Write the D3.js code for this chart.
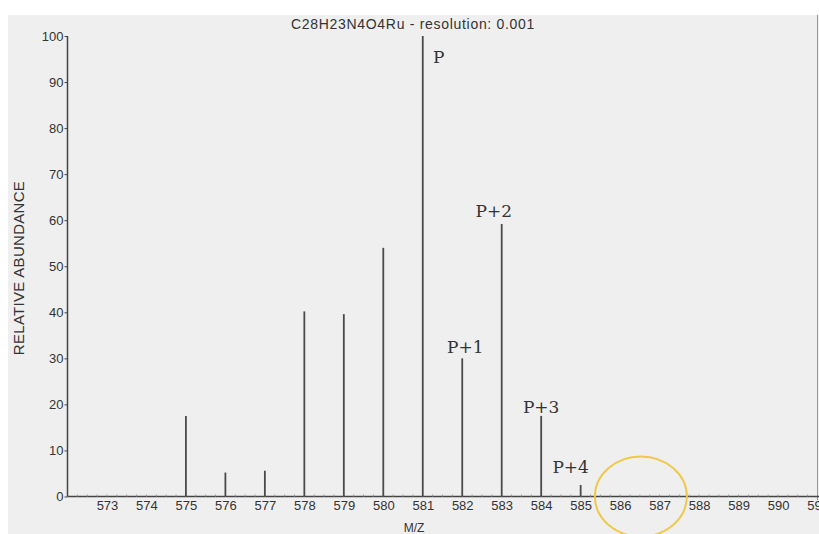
<!DOCTYPE html>
<html>
<head>
<meta charset="utf-8">
<script src="https://cdn.jsdelivr.net/npm/d3@7"></script>
<style>
  body { margin: 0; background: #fff; }
  svg { display: block; }
</style>
</head>
<body>
<div id="chart"></div>
<script>
// peak data (m/z, relative abundance)
var mz        = [575, 576, 577, 578, 579, 580, 581, 582, 583, 584, 585];
var abundance = [17.5, 5.2, 5.6, 40.2, 39.6, 54, 100, 30, 59.2, 17.5, 2.5];

// isotope labels
var labelText = ["P", "P+1", "P+2", "P+3", "P+4"];
var labelMz   = [581, 582, 583, 584, 585];

var xTicks = d3.range(573, 592);
var yTicks = d3.range(0, 101, 10);

var W = 819, H = 534;
var sans = "Arial, 'Liberation Sans', sans-serif";

var svg = d3.select("#chart").append("svg")
    .attr("width", W)
    .attr("height", H);

// grey panel
svg.append("rect")
    .attr("x", 8).attr("y", 15)
    .attr("width", W - 8).attr("height", H - 15)
    .style("fill", "#efefef");
svg.append("line")
    .attr("x1", 817.5).attr("x2", 817.5)
    .attr("y1", 15).attr("y2", 500)
    .style("stroke", "#999").style("stroke-width", 1);

var x = d3.scaleLinear().domain([572, 591]).range([67.5, 817.5]);
var y = d3.scaleLinear().domain([0, 100]).range([496.5, 36]);

// title
svg.append("text")
    .attr("x", 413).attr("y", 29)
    .attr("text-anchor", "middle")
    .style("font-family", sans)
    .style("font-size", "14px")
    .style("letter-spacing", "0.7px")
    .style("fill", "#333")
    .text("C28H23N4O4Ru - resolution: 0.001");

// y axis
var yAxis = d3.axisLeft(y).tickValues(yTicks).tickSize(3).tickPadding(1);
var gy = svg.append("g")
    .attr("transform", "translate(" + x(572) + ",0)")
    .call(yAxis);
gy.select(".domain").attr("d", "M0," + y(100) + "V" + y(0));

// x axis
var xAxis = d3.axisBottom(x).tickValues(xTicks).tickSize(0).tickPadding(4);
var gx = svg.append("g")
    .attr("transform", "translate(0," + y(0) + ")")
    .call(xAxis);
gx.select(".domain").attr("d", "M" + x(572) + ",0H" + W);

// minor ticks on the m/z axis
svg.append("g").selectAll("line")
    .data(d3.range(572.25, 591, 0.25))
    .enter().append("line")
    .attr("x1", function(d) { return x(d); })
    .attr("x2", function(d) { return x(d); })
    .attr("y1", y(0) - 2)
    .attr("y2", y(0))
    .style("stroke", "#999")
    .style("stroke-width", 1);

svg.selectAll(".domain").style("stroke", "#444").style("stroke-width", 1.5);
svg.selectAll(".tick line").style("stroke", "#444");
svg.selectAll(".tick text")
    .style("font-family", sans)
    .style("font-size", "13px")
    .style("fill", "#333");

// axis titles
svg.append("text")
    .attr("transform", "translate(24," + 268 + ") rotate(-90)")
    .attr("text-anchor", "middle")
    .style("font-family", sans)
    .style("font-size", "15px")
    .style("letter-spacing", "0.3px")
    .style("fill", "#333")
    .text("RELATIVE ABUNDANCE");

svg.append("text")
    .attr("x", 414).attr("y", 532)
    .attr("text-anchor", "middle")
    .style("font-family", sans)
    .style("font-size", "12px")
    .style("fill", "#333")
    .text("M/Z");

// peaks
var peaks = mz.map(function(d, i) { return { mz: d, v: abundance[i] }; });
svg.append("g").selectAll("line")
    .data(peaks)
    .enter().append("line")
    .attr("x1", function(d) { return x(d.mz); })
    .attr("x2", function(d) { return x(d.mz); })
    .attr("y1", y(0))
    .attr("y2", function(d) { return y(d.v); })
    .style("stroke", "#4a4a4a")
    .style("stroke-width", 1.8);

// isotope labels, offsets in px from the top of each peak
var labelDx = [16, 3, -8, 0, -10];
var labelDy = [27, -5, -7, -3, -12];
svg.append("g").selectAll("text")
    .data(labelText)
    .enter().append("text")
    .attr("x", function(d, i) { return x(labelMz[i]) + labelDx[i]; })
    .attr("y", function(d, i) {
        return y(abundance[mz.indexOf(labelMz[i])]) + labelDy[i];
    })
    .attr("text-anchor", "middle")
    .style("font-family", "'DejaVu Serif', 'Liberation Serif', serif")
    .style("font-size", "17px")
    .style("fill", "#333")
    .text(function(d) { return d; });

// highlight ellipse around the empty region
svg.append("ellipse")
    .attr("cx", x(586.5) + 1)
    .attr("cy", y(0))
    .attr("rx", 46)
    .attr("ry", 40)
    .style("fill", "none")
    .style("stroke", "#eec94a")
    .style("stroke-width", 2);
</script>
</body>
</html>
